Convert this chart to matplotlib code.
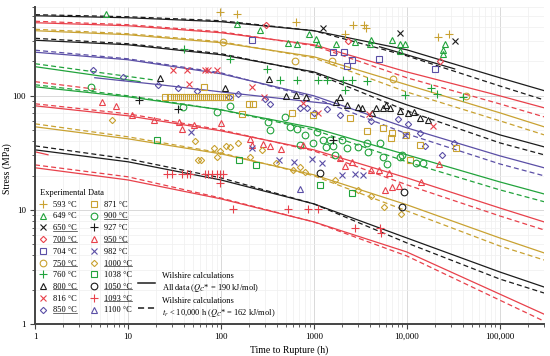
import matplotlib
matplotlib.use("Agg")
import matplotlib.pyplot as plt
from matplotlib.lines import Line2D
from matplotlib.ticker import FixedLocator, FixedFormatter, NullFormatter, LogLocator

plt.rcParams['font.family'] = 'serif'
plt.rcParams['font.serif'] = ['Liberation Serif', 'DejaVu Serif']
plt.rcParams['mathtext.fontset'] = 'stix'

# colours used in the original figure
BLACK = '#1c1c1c'
RED = '#e8414b'
GOLD = '#c9a232'
GREEN = '#22a33c'
PURPLE = '#5b4fa6'

# ---- Wilshire calculation curves (time h, stress MPa) ----
t_fit = [1, 10, 100, 1000, 10000, 100000, 300000]
fit650 = [503, 483, 446, 372, 253, 144, 111]
fit650d = [514, 493, 455, 372, 224, 122, 92]
fit700 = [437, 411, 357, 280, 162, 100, 78.5]
fit700d = [450, 420, 364, 275, 144, 85, 65.4]
fit750 = [372, 343, 292, 220, 125, 71, 53.5]
fit750d = [383, 350, 298, 215, 108, 60.4, 45.5]
fit800 = [307, 280, 229, 162, 83.4, 45.5, 35.7]
fit800d = [319, 286, 234, 159, 73.9, 38.7, 30.4]
fit850 = [241, 207, 156, 100, 52.4, 29.8, 23.4]
fit850d = [251, 211, 159, 96, 46.4, 25.3, 19.9]
fit900 = [120, 98, 75.4, 52.4, 30.4, 17.6, 13.8]
fit900d = [125, 100, 75.4, 50.3, 26.4, 15.0, 11.8]
fit950 = [81.7, 66.8, 49.3, 33.6, 19.1, 10.4, 7.85]
fit950d = [85.1, 69.5, 50.3, 32.9, 16.6, 8.86, 6.68]
fit1000 = [53.5, 42.0, 31.0, 20.3, 11.1, 5.68, 4.20]
fit1000d = [56.8, 43.7, 31.6, 19.9, 9.8, 4.83, 3.64]
fit1050 = [33.6, 26.4, 18.3, 11.3, 5.68, 2.86, 2.11]
fit1050d = [36.4, 28.0, 19.1, 11.3, 5.14, 2.48, 1.87]
fit1093 = [23.4, 18.3, 12.5, 7.85, 4.28, 1.83, 1.22]
fit1093d = [24.8, 19.5, 12.7, 7.85, 3.95, 1.62, 1.06]

# short curve pieces
t_g900a, s_g900a = [1, 13.5], [180, 133]
t_g900b, s_g900b = [1, 18.6], [191, 138]
t_r950x, s_r950x = [1, 5.0], [133, 113]
t_r1093x, s_r1093x = [1, 1.38], [32.3, 30.4]
t_p850x, s_p850x = [4.4, 22, 125, 1490], [144, 125, 106, 85]
t_k650x, s_k650x = [5100, 32800], [269, 172]

# ---- experimental data (time h, stress MPa) ----
t593 = [97.5, 149, 640, 2150, 2630, 3450, 3620, 21500, 28300]
s593 = [546, 524, 446, 350, 420, 420, 395, 330, 350]
t649 = [5.8, 149, 263, 525, 656, 884, 1050, 1100, 1720, 2760, 4100, 4000, 6900, 8400, 9500, 8400, 25600, 24400, 24400]
s649 = [524, 428, 379, 292, 286, 350, 316, 286, 286, 298, 310, 286, 310, 286, 286, 248, 286, 253, 234]
t650 = [1250, 8400, 32800]
s650 = [395, 357, 304]
t700 = [305, 2320, 22600]
s700 = [420, 304, 203]
t704 = [215, 1600, 2100, 2560, 2260, 5000, 20000]
s704 = [310, 243, 243, 207, 183, 211, 172]
t750 = [105, 625, 1560, 7070, 43100]
s750 = [298, 203, 203, 141, 100]
t760 = [40, 125, 312, 431, 656, 1100, 1380, 2050, 2560, 3720, 2150, 9500, 18100, 21000, 40000]
s760 = [258, 211, 172, 138, 138, 138, 138, 138, 138, 135, 113, 102, 118, 104, 98]
t800 = [22, 110, 328, 500, 640, 820, 1720, 1900, 2260, 2970, 3280, 4200, 4640, 5520, 5940, 6560, 8400, 10250, 11900, 13800, 16800]
s800 = [144, 118, 141, 100, 102, 98, 88.6, 98, 83.4, 80.1, 78.5, 71, 78.5, 78.5, 83.4, 78.5, 73.9, 71, 72.4, 64.1, 61.6]
t816 = [30.5, 43, 67, 72, 90.6, 45, 215, 290, 762, 1100, 3900, 19000]
s816 = [169, 169, 169, 169, 169, 127, 120, 98, 86.8, 71, 69.5, 54.6]
t850 = [4.2, 8.8, 21, 34.5, 55, 122, 152, 297, 336, 707, 840, 1000, 1380, 1900, 4100, 8000, 10250, 13800, 15600, 23800, 32000]
s850 = [169, 147, 125, 118, 111, 98, 104, 94, 85.1, 78.5, 78.5, 71, 76.9, 68.1, 60.4, 62.9, 56.8, 47.4, 36.4, 30.4, 38.7]
t871 = [25, 28.3, 31, 34.5, 38, 42, 46.5, 51, 56.5, 62, 69, 76, 84, 93, 103, 113, 125,
        65.6, 200, 220, 168, 580, 975, 2440, 3720, 5520, 6900, 6700, 9750, 13800, 10800, 33700]
s871 = [97, 97, 97, 97, 97, 97, 97, 97, 97, 97, 97, 97, 97, 97, 97, 97, 97,
        120, 85.1, 85.1, 69.5, 71, 68.1, 64.1, 49.3, 52.4, 47.4, 42.8, 45.5, 37.2, 27.5, 35]
t900 = [4.0, 39, 90.6, 125, 320, 336, 488, 552, 656, 707, 800, 975, 1077, 1250, 1345, 1490, 1600, 1680,
        2000, 2260, 2970, 3720, 3800, 5130, 5520, 6100, 8400, 8850, 12500, 14900]
s900 = [120, 80.1, 72.4, 81.7, 59.1, 50.3, 65.4, 53.5, 51.4, 37.2, 45.5, 38.7, 48.3, 41.1, 35.7, 41.1, 36.4, 30.4,
        41.1, 35, 35.7, 38.7, 32.3, 38.7, 29.2, 25.3, 29.2, 30.4, 25.8, 25.8]
t927 = [13.1, 34.5, 1600]
s927 = [92, 76.9, 41.1]
t950 = [5.25, 7.4, 11, 19, 35.4, 38, 51.3, 100, 205, 215, 283, 336, 442, 762, 1900, 2150, 2560,
        4100, 5000, 6400, 5800, 6900, 8200, 14150, 22100]
s950 = [88.6, 81.7, 68.1, 61.6, 59.1, 51.4, 55.7, 58, 42, 37.2, 37.9, 36.4, 34.3, 37.2, 28.6, 24.3, 26.4,
        22.4, 22.4, 21.1, 15, 15.9, 16.2, 17.6, 25.3]
t982 = [47.6, 215, 420, 610, 950, 1220, 2000, 2760, 3360, 9500]
s982 = [48.3, 35, 27.5, 26.4, 28, 25.8, 20.3, 20.7, 20.3, 45.5]
t1000 = [6.7, 52.5, 84, 97.5, 113, 90.6, 56.6, 61, 152, 125, 205, 276, 390, 595, 707, 800, 1680, 2970, 4100, 5660, 8620]
s1000 = [61.6, 40.3, 35, 32.9, 36.4, 29.2, 27.5, 27.5, 38.7, 35.7, 29.2, 33.6, 25.8, 22.4, 23.8, 21.5, 18.3, 15, 13.3, 10.6, 9.2]
t1038 = [20.5, 156, 238, 1160, 2560]
s1038 = [41.1, 27.5, 24.8, 16.6, 14.1]
t1050 = [1160, 9300, 8850]
s1050 = [21.1, 14.4, 10.6]
t1093 = [26.3, 29.7, 38.2, 43, 46.4, 67.3, 72.5, 80, 90.6, 97.5, 105, 97.5, 135, 525, 862, 1100, 2760, 5100, 5250]
s1093 = [20.7, 20.7, 20.7, 20.7, 20.7, 20.7, 20.7, 20.7, 20.7, 20.7, 20.7, 17.3, 10.2, 10.2, 10.2, 10.2, 6.95, 6.95, 6.29]
t1100 = [707]
s1100 = [15.3]

fig = plt.figure(figsize=(5.5, 3.56), dpi=100)
ax = fig.add_axes([35 / 550, 32 / 356, 509 / 550, 317 / 356])
ax.set_xscale('log')
ax.set_yscale('log')
ax.set_xlim(1, 3e5)
ax.set_ylim(1, 600)

# grid
ax.grid(True, which='major', color='#d9d9d9', lw=0.7)
ax.grid(True, which='minor', color='#efefef', lw=0.5)
ax.set_axisbelow(True)

# model curves
curves = [
    (fit650, fit650d, BLACK), (fit700, fit700d, RED), (fit750, fit750d, GOLD),
    (fit800, fit800d, BLACK), (fit850, fit850d, PURPLE), (fit900, fit900d, GREEN),
    (fit950, fit950d, RED), (fit1000, fit1000d, GOLD), (fit1050, fit1050d, BLACK),
    (fit1093, fit1093d, RED),
]
for solid, dashed, c in curves:
    ax.plot(t_fit, solid, '-', color=c, lw=0.9)
    ax.plot(t_fit, dashed, '--', color=c, lw=0.9, dashes=(4, 2.5))

ax.plot(t_g900a, s_g900a, '-', color=GREEN, lw=0.9)
ax.plot(t_g900b, s_g900b, '--', color=GREEN, lw=0.9, dashes=(4, 2.5))
ax.plot(t_r950x, s_r950x, '--', color=RED, lw=0.9, dashes=(4, 2.5))
ax.plot(t_r1093x, s_r1093x, '-', color=RED, lw=0.9)
ax.plot(t_p850x, s_p850x, '-', color=PURPLE, lw=0.9)
ax.plot(t_k650x, s_k650x, '-', color=BLACK, lw=0.9)

# experimental points
series = [
    ('593 °C', t593, s593, '+', GOLD, 5.5),
    ('649 °C', t649, s649, '^', GREEN, 4.5),
    ('650 °C', t650, s650, 'x', BLACK, 4.5),
    ('700 °C', t700, s700, 'D', RED, 3.2),
    ('704 °C', t704, s704, 's', PURPLE, 4.3),
    ('750 °C', t750, s750, 'o', GOLD, 4.8),
    ('760 °C', t760, s760, '+', GREEN, 5.5),
    ('800 °C', t800, s800, '^', BLACK, 4.5),
    ('816 °C', t816, s816, 'x', RED, 4.5),
    ('850 °C', t850, s850, 'D', PURPLE, 3.2),
    ('871 °C', t871, s871, 's', GOLD, 4.3),
    ('900 °C', t900, s900, 'o', GREEN, 4.8),
    ('927 °C', t927, s927, '+', BLACK, 5.5),
    ('950 °C', t950, s950, '^', RED, 4.5),
    ('982 °C', t982, s982, 'x', PURPLE, 4.5),
    ('1000 °C', t1000, s1000, 'D', GOLD, 3.2),
    ('1038 °C', t1038, s1038, 's', GREEN, 4.3),
    ('1050 °C', t1050, s1050, 'o', BLACK, 4.8),
    ('1093 °C', t1093, s1093, '+', RED, 5.5),
    ('1100 °C', t1100, s1100, '^', PURPLE, 4.5),
]
handles = []
for lab, t, s, m, c, ms in series:
    h, = ax.plot(t, s, ls='none', marker=m, ms=ms, mfc='none', mec=c, mew=0.8, label=lab)
    handles.append(h)

# axes styling
for sp in ['top', 'right']:
    ax.spines[sp].set_visible(False)
for sp in ['left', 'bottom']:
    ax.spines[sp].set_color('#444444')
    ax.spines[sp].set_linewidth(1.4)

ax.xaxis.set_major_locator(FixedLocator([1, 10, 100, 1000, 10000, 100000]))
ax.xaxis.set_major_formatter(FixedFormatter(['1', '10', '100', '1000', '10,000', '100,000']))
ax.xaxis.set_minor_locator(LogLocator(base=10, subs=range(2, 10), numticks=20))
ax.xaxis.set_minor_formatter(NullFormatter())
ax.yaxis.set_major_locator(FixedLocator([1, 10, 100]))
ax.yaxis.set_major_formatter(FixedFormatter(['1', '10', '100']))
ax.yaxis.set_minor_locator(LogLocator(base=10, subs=range(2, 10), numticks=20))
ax.yaxis.set_minor_formatter(NullFormatter())
ax.tick_params(which='major', direction='out', length=3.5, width=0.8, color='#444444', labelsize=6.5, pad=3)
ax.tick_params(which='minor', direction='out', length=2, width=0.6, color='#444444')

ax.set_xlabel('Time to Rupture (h)', fontsize=7, labelpad=3)
ax.set_ylabel('Stress (MPa)', fontsize=7)
ax.yaxis.set_label_coords(-0.045, 0.49)

# legend for the data
leg = fig.legend(handles=handles, ncol=2, loc='upper left',
                 bbox_to_anchor=(40 / 550, (356 - 189) / 356), frameon=False,
                 fontsize=6, title='Experimental Data', title_fontsize=6,
                 alignment='left', handlelength=0.8, handletextpad=0.8,
                 columnspacing=1.6, labelspacing=0.45, borderpad=0, borderaxespad=0)

# legend for the model curves
lh = [Line2D([], [], color=BLACK, lw=1.1, ls='-'),
      Line2D([], [], color=BLACK, lw=1.1, ls='--', dashes=(4, 2.5))]
ll = ['Wilshire calculations\nAll data ($Q_C$* = 190 kJ/mol)',
      'Wilshire calculations\n$t_r$ < 10,000 h ($Q_C$* = 162 kJ/mol)']
fig.legend(handles=lh, labels=ll, loc='upper left',
           bbox_to_anchor=(138 / 550, (356 - 272) / 356), frameon=False,
           fontsize=6, handlelength=2.0, handletextpad=0.9, labelspacing=0.45,
           borderpad=0, borderaxespad=0)

# underline the temperatures that have a calculated curve
underlined = {'650 °C', '700 °C', '750 °C', '800 °C', '850 °C', '900 °C',
              '950 °C', '1000 °C', '1050 °C', '1093 °C'}
fig.canvas.draw()
renderer = fig.canvas.get_renderer()
inv = fig.transFigure.inverted()
for txt in leg.get_texts():
    if txt.get_text() in underlined:
        bb = txt.get_window_extent(renderer)
        (x0, y0), (x1, _) = inv.transform([[bb.x0, bb.y0 + 1.6], [bb.x1, bb.y0]])
        fig.add_artist(Line2D([x0, x1], [y0, y0], transform=fig.transFigure,
                              lw=0.5, color='#333333'))

fig.savefig('out.png', dpi=100)
